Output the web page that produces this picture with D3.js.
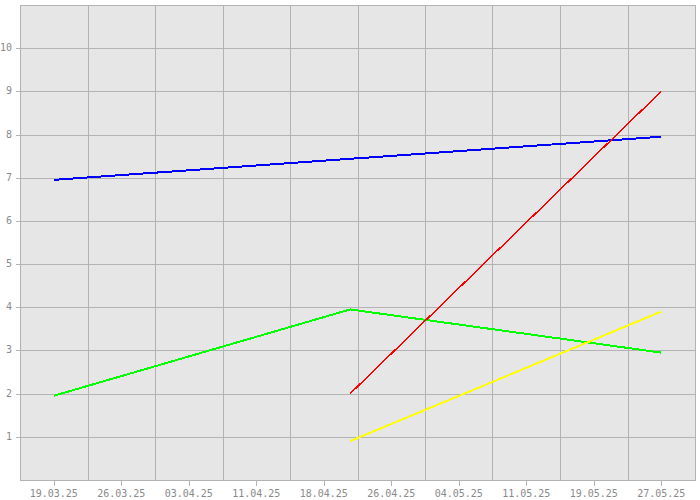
<!DOCTYPE html>
<html>
<head>
<meta charset="utf-8">
<script src="https://cdn.jsdelivr.net/npm/d3@7"></script>
<style>
  html, body { margin: 0; padding: 0; background: #ffffff; }
  svg { display: block; }
  text { font-family: "DejaVu Sans Mono", monospace; font-size: 10px; fill: #8a8a8a; }
</style>
</head>
<body>
<svg id="chart" width="700" height="500"></svg>
<script>
// ---- data ----
const startDate = "2025-03-19";
const endDate = "2025-05-27";
const xTickLabels = ["19.03.25","26.03.25","03.04.25","11.04.25","18.04.25","26.04.25","04.05.25","11.05.25","19.05.25","27.05.25"];
const yTicks = [1,2,3,4,5,6,7,8,9,10];
const blueDates = ["2025-03-19T00:00Z", "2025-05-27T00:00Z"];
const blueValues = [6.95, 7.95];
const greenDates = ["2025-03-19T00:00Z", "2025-04-21T16:00Z", "2025-05-27T00:00Z"];
const greenValues = [1.95, 3.95, 2.95];
const redDates = ["2025-04-21T16:00Z", "2025-05-27T00:00Z"];
const redValues = [2, 9];
const yellowDates = ["2025-04-21T16:00Z", "2025-05-27T00:00Z"];
const yellowValues = [0.9, 3.9];
const yDomain = [0, 11];

// ---- layout ----
const mLeft = 20, mRight = 695, mTop = 5, mBottom = 480;
const svg = d3.select("#chart");
const d0 = new Date(startDate + "T00:00Z");
const d1 = new Date(endDate + "T00:00Z");
const n = xTickLabels.length;
const step = (d1 - d0) / (n - 1);
const x = d3.scaleUtc()
  .domain([new Date(+d0 - step / 2), new Date(+d1 + step / 2)])
  .range([mLeft, mRight]);
const y = d3.scaleLinear().domain(yDomain).range([mBottom, mTop]);

const tickDates = xTickLabels.map((_, i) => new Date(+d0 + i * step));
const gridDates = d3.range(n + 1).map(i => new Date(+d0 - step / 2 + i * step));

// background
svg.append("rect")
  .attr("x", mLeft).attr("y", mTop)
  .attr("width", mRight - mLeft).attr("height", mBottom - mTop)
  .attr("fill", "#e6e6e6");

const gridColor = "#b3b3b3";
const g = svg.append("g").attr("shape-rendering", "crispEdges");

// horizontal grid
g.selectAll("line.hg").data(yTicks).join("line")
  .attr("x1", mLeft).attr("x2", mRight)
  .attr("y1", d => Math.round(y(d)) + 0.5).attr("y2", d => Math.round(y(d)) + 0.5)
  .attr("stroke", gridColor);

// vertical grid
g.selectAll("line.vg").data(gridDates).join("line")
  .attr("y1", mTop).attr("y2", mBottom)
  .attr("x1", d => Math.round(x(d)) + 0.5).attr("x2", d => Math.round(x(d)) + 0.5)
  .attr("stroke", gridColor);

// top border
g.append("line").attr("x1", mLeft).attr("x2", mRight + 0.5)
  .attr("y1", mTop + 0.5).attr("y2", mTop + 0.5).attr("stroke", gridColor);
// bottom axis line
g.append("line").attr("x1", mLeft).attr("x2", mRight + 0.5)
  .attr("y1", mBottom + 0.5).attr("y2", mBottom + 0.5).attr("stroke", gridColor);

// y ticks
g.selectAll("line.yt").data(yTicks).join("line")
  .attr("x1", mLeft - 4).attr("x2", mLeft)
  .attr("y1", d => Math.round(y(d)) + 0.5).attr("y2", d => Math.round(y(d)) + 0.5)
  .attr("stroke", gridColor);
svg.selectAll("text.yl").data(yTicks).join("text")
  .attr("class", "yl")
  .attr("x", mLeft - 8).attr("y", d => y(d))
  .attr("text-anchor", "end").attr("dominant-baseline", "middle")
  .text(d => d);

// x ticks
g.selectAll("line.xt").data(tickDates).join("line")
  .attr("x1", d => Math.round(x(d)) + 0.5).attr("x2", d => Math.round(x(d)) + 0.5)
  .attr("y1", mBottom).attr("y2", mBottom + 6)
  .attr("stroke", gridColor);
svg.selectAll("text.xl").data(tickDates).join("text")
  .attr("class", "xl")
  .attr("x", d => x(d)).attr("y", mBottom + 17)
  .attr("text-anchor", "middle")
  .text((d, i) => xTickLabels[i]);

// series
const line = d3.line().x(d => x(d[0])).y(d => y(d[1]));
function series(dates, values, color, width) {
  const pts = dates.map((d, i) => [new Date(d), values[i]]);
  svg.append("path").datum(pts)
    .attr("d", line)
    .attr("fill", "none")
    .attr("stroke", color)
    .attr("stroke-width", width)
    .attr("shape-rendering", "crispEdges");
}
series(blueDates, blueValues, "#0000ff", 2);
series(greenDates, greenValues, "#00ff00", 2);
series(redDates, redValues, "#ff0000", 1.5);
series(yellowDates, yellowValues, "#ffff00", 2);
</script>
</body>
</html>
